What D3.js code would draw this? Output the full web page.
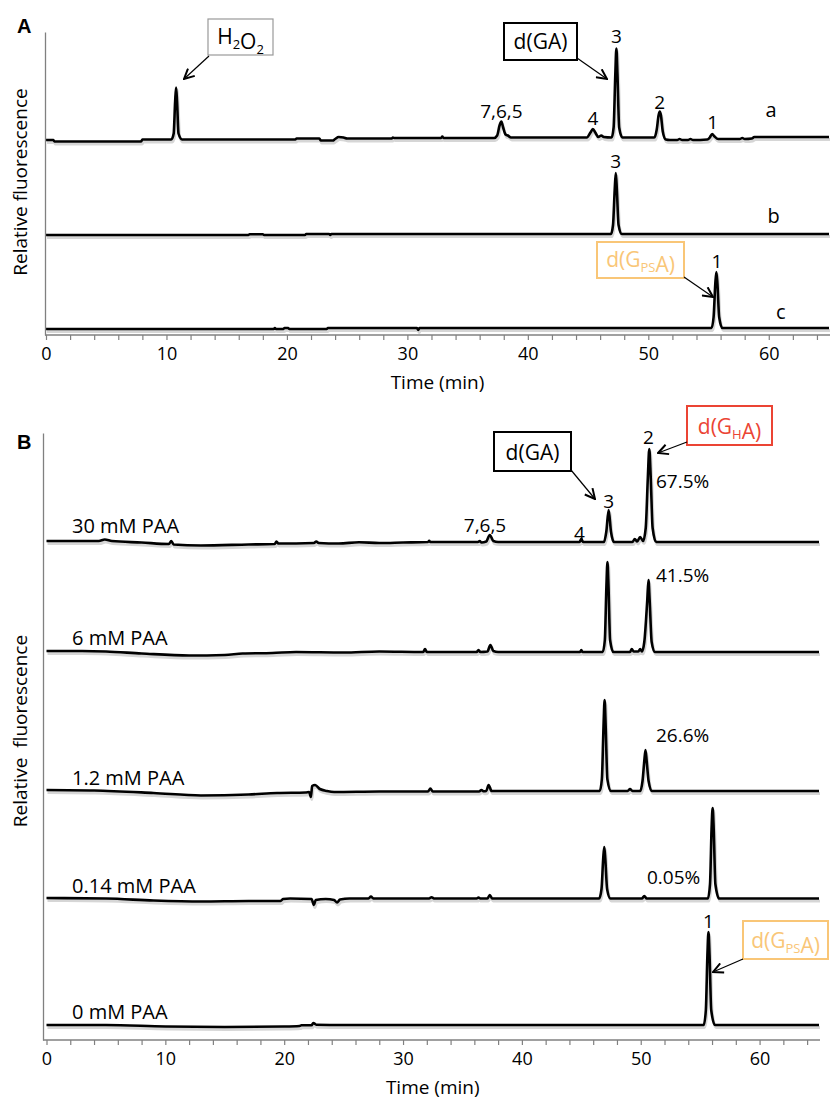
<!DOCTYPE html>
<html>
<head>
<meta charset="utf-8">
<script src="https://cdn.jsdelivr.net/npm/d3@7"></script>
<style>
  body { margin: 0; background: #fff; }
  svg { display: block; font-family: "Open Sans", sans-serif; }
</style>
</head>
<body>
<svg id="chart" width="830" height="1100"></svg>
<script>
// retention time axis (min)
const timeDomain = [0, 65];
const majorTicks = [0, 10, 20, 30, 40, 50, 60];
const minorTicks = [0, 2, 4, 6, 8, 10, 12, 14, 16, 18, 20, 22, 24, 26, 28, 30, 32,
  34, 36, 38, 40, 42, 44, 46, 48, 50, 52, 54, 56, 58, 60, 62, 64];

// panel A : a = reaction mix, b = d(GA) standard, c = d(GpsA) standard
const namesA = ["a", "b", "c"];
const offsetsA = [195.5, 100, 6];
const traceA_a = [
  [0, -0.5], [0.6, -0.5], [0.7, -2], [7.9, -2], [8.0, 0],
  [10.4, 0], [10.6, 6], [10.72, 38], [10.8, 52], [10.88, 38], [11.0, 6], [11.3, 0],
  [20.7, 0], [20.8, 1], [22.7, 1], [22.8, -1], [23.8, -1], [24.0, 0.5], [24.3, 2.5],
  [24.7, 2], [25.0, 1], [28.7, 1], [28.8, 2], [28.9, 1.5],
  [32.8, 1.5], [32.9, 3], [33.0, 1.5],
  [37.2, 1.5], [37.45, 4], [37.65, 14], [37.8, 18], [37.95, 12], [38.15, 5], [38.35, 4], [38.6, 2],
  [44.9, 2], [45.2, 7], [45.4, 10.5], [45.6, 7], [45.85, 2.5], [46.1, 4], [46.3, 2.5],
  [46.95, 2], [47.12, 12], [47.26, 65], [47.35, 91], [47.44, 65], [47.58, 12], [47.85, 2],
  [50.5, 2], [50.7, 10], [50.85, 24], [50.95, 28], [51.05, 24], [51.2, 8], [51.45, 0],
  [51.8, -0.5], [52.4, -0.5], [52.6, 0.5], [52.8, -0.5], [53.3, -0.5], [53.5, 0.5],
  [53.7, -0.5], [54.9, 0], [55.1, 2], [55.3, 5.5], [55.5, 3], [55.8, 0.5],
  [57.6, 0.5], [57.8, 1.5], [58.0, 0.5], [58.6, 1], [58.8, 2.5], [65, 2.5]
];
const traceA_b = [
  [0, 0], [16.8, 0], [16.9, 0.8], [18.0, 0.8], [18.1, 0], [21.5, 0], [21.6, 1],
  [23.5, 1], [23.6, 0], [23.7, 1],
  [46.9, 1], [47.07, 10], [47.21, 45], [47.3, 62], [47.39, 45], [47.53, 10], [47.8, 1], [65, 1]
];
const traceA_c = [
  [0, 0], [18.9, 0], [19.0, 1], [19.1, 0], [19.7, 0], [19.8, 1], [20.1, 1], [20.2, 0],
  [23.3, 0], [23.4, 1], [30.8, 1], [30.9, -1], [31.0, 1],
  [55.25, 1], [55.42, 12], [55.56, 45], [55.65, 57], [55.74, 45], [55.88, 12], [56.15, 1], [65, 1]
];

// panel B : peracetic acid (PAA) titration
const namesB = ["30 mM PAA", "6 mM PAA", "1.2 mM PAA", "0.14 mM PAA", "0 mM PAA"];
const offsetsB = [498, 388, 249, 141, 15];
const percentB = ["67.5%", "41.5%", "26.6%", "0.05%", ""];
const traceB_30 = [
  [0, 1], [4.4, 1], [4.9, 2.5], [5.5, 1], [8, -0.5], [10.3, -2], [10.5, 1], [10.7, -2.5],
  [13, -3.5], [17, -2.5], [19.2, -2], [19.35, 0.5], [19.5, -1.5], [22.5, -1], [22.7, 0.5],
  [22.9, -1], [24.6, -1.5], [26.3, -0.3], [28, -1], [30, -0.5], [32.1, 0], [32.2, 1.2],
  [32.3, 0], [36.3, 0], [36.45, 1], [36.6, -0.5], [37.0, 0.5], [37.3, 7], [37.6, 1], [38, 0],
  [44.85, 0], [45.0, 3], [45.15, 0],
  [46.9, 0], [47.1, 10], [47.3, 32], [47.5, 10], [47.75, 0],
  [49.3, 0], [49.5, 3], [49.7, 0.5], [49.95, 5], [50.2, 1],
  [50.42, 14], [50.6, 65], [50.72, 93], [50.84, 65], [51.0, 14], [51.3, 0], [65, 0]
];
const traceB_6 = [
  [0, 1], [3, 1], [5, 0.5], [8, -1.5], [12, -3.5], [15, -3], [16.5, -1.5], [19, -1],
  [21, 0], [25, -0.5], [28, 0.5], [31.7, 0], [31.85, 3], [32.0, 0], [36.2, 0],
  [36.35, 2], [36.5, 0], [37.1, 0.5], [37.35, 7], [37.6, 1], [38, 0],
  [44.9, 0], [45.0, 2], [45.1, 0],
  [46.8, 0], [46.98, 12], [47.11, 65], [47.2, 90], [47.29, 65], [47.42, 12], [47.7, 0],
  [49.1, 0], [49.25, 3], [49.4, 0.5], [49.8, 0.5], [49.95, 3], [50.1, 0.5],
  [50.3, 10], [50.55, 52], [50.65, 72], [50.75, 52], [50.92, 10], [51.2, 0], [65, 0]
];
const traceB_1_2 = [
  [0, 1], [4, 0.5], [9, -2], [13, -4.5], [17, -3.5], [19.4, -2], [21.8, -1.5], [22.1, -1],
  [22.25, -6], [22.35, 5], [22.6, 6], [23.0, 2], [23.6, 0], [24.2, -1], [28, -0.5],
  [32.1, -0.5], [32.3, 2.5], [32.5, -0.5], [36.4, -0.5], [36.6, 1], [36.8, -0.3],
  [37.0, 0], [37.2, 6], [37.45, 0],
  [46.55, 0], [46.73, 12], [46.87, 65], [46.96, 91], [47.05, 65], [47.19, 12], [47.5, 0],
  [48.9, 0], [49.1, 2], [49.3, 0],
  [49.95, 0], [50.15, 10], [50.3, 30], [50.4, 41], [50.5, 30], [50.66, 10], [50.95, 0], [65, 0]
];
const traceB_0_14 = [
  [0, 1], [5, 0.5], [9, -1.5], [13, -2.5], [17, -2], [19.7, -2], [19.9, 0], [20.5, 0.5],
  [22.3, 0], [22.5, -6], [22.65, -1], [23.5, 0], [24.2, -1], [24.45, -3.5], [24.7, -0.5],
  [25.5, 0.5], [27.1, 0.5], [27.3, 2.5], [27.5, 0.5], [32.2, 0.5], [32.4, 1.8], [32.6, 0.5],
  [36.2, 0.5], [36.35, 1.5], [36.5, 0.5], [37.1, 0.5], [37.3, 4], [37.5, 0.5],
  [46.5, 0.5], [46.7, 10], [46.84, 40], [46.93, 52], [47.02, 40], [47.17, 10], [47.45, 0.5],
  [50.1, 0.5], [50.3, 3], [50.5, 0.5],
  [55.65, 0.5], [55.83, 15], [55.96, 70], [56.05, 91], [56.14, 70], [56.28, 15], [56.6, 0.5], [65, 0.5]
];
const traceB_0 = [
  [0, 0], [5, 0], [10, -1.5], [15, -2], [20, -1.5], [21.3, -1], [21.45, -0.3], [22.3, -0.3],
  [22.45, 2], [22.7, 0.3], [25, 0], [40, 0], [50, 0],
  [55.3, 0], [55.48, 15], [55.61, 70], [55.7, 93], [55.79, 70], [55.93, 15], [56.25, 0], [65, 0]
];

const ORANGE = "#f9c677";
const RED = "#eb4434";
const AXIS = "#808080";

const svg = d3.select("#chart");

const defs = svg.append("defs");
defs.append("marker")
  .attr("id", "head")
  .attr("viewBox", "0 0 12 12")
  .attr("refX", 11)
  .attr("refY", 6)
  .attr("markerWidth", 12)
  .attr("markerHeight", 12)
  .attr("markerUnits", "userSpaceOnUse")
  .attr("orient", "auto")
  .append("path")
  .attr("d", "M1,1L11,6L1,11")
  .attr("fill", "none")
  .attr("stroke", "#000")
  .attr("stroke-width", 2);

function drawPanel(p) {
  const x = d3.scaleLinear().domain(timeDomain).range(p.xRange);
  const y = d3.scaleLinear().domain(p.yDomain).range(p.yRange);
  const g = svg.append("g");

  const line = (off) => d3.line()
    .x((d) => x(d[0]))
    .y((d) => y(d[1] + off))
    .curve(d3.curveMonotoneX);

  // soft drop shadow under the traces, like the original export
  p.traces.forEach((tr, i) => {
    g.append("path")
      .attr("d", line(p.offsets[i])(tr))
      .attr("fill", "none")
      .attr("stroke", "#000")
      .attr("stroke-opacity", 0.16)
      .attr("stroke-width", 3)
      .attr("transform", "translate(1,2.5)");
  });
  p.traces.forEach((tr, i) => {
    g.append("path")
      .attr("d", line(p.offsets[i])(tr))
      .attr("fill", "none")
      .attr("stroke", "#000")
      .attr("stroke-width", 2.6)
      .attr("stroke-linejoin", "round");
  });

  const xAxis = d3.axisBottom(x)
    .tickValues(minorTicks)
    .tickFormat((d) => (majorTicks.includes(d) ? d : ""))
    .tickSize(5)
    .tickSizeOuter(0)
    .tickPadding(7);
  const ax = g.append("g")
    .attr("transform", `translate(0,${p.yRange[0]})`)
    .call(xAxis);
  ax.select(".domain").remove();
  ax.append("line")
    .attr("x1", p.axisX).attr("x2", p.xRange[1] + 1)
    .attr("stroke", AXIS).attr("stroke-width", 1.3);
  ax.selectAll(".tick line").attr("stroke", AXIS).attr("stroke-width", 1.2);
  ax.selectAll(".tick text")
    .attr("fill", "#000")
    .style("font-family", "Open Sans, sans-serif")
    .style("font-size", "18px");

  const ay = g.append("g")
    .attr("transform", `translate(${p.axisX},0)`)
    .call(d3.axisLeft(y).tickValues([]).tickSizeOuter(0));
  ay.select(".domain").attr("stroke", AXIS).attr("stroke-width", 1.3);

  g.append("text")
    .attr("x", (p.xRange[0] + p.xRange[1]) / 2)
    .attr("y", p.yRange[0] + 54)
    .attr("text-anchor", "middle")
    .style("font-size", "19px")
    .text("Time (min)");

  g.append("text")
    .attr("transform", `translate(27,${p.yTitleY}) rotate(-90)`)
    .attr("text-anchor", "middle")
    .style("font-size", "19px")
    .style("white-space", "pre")
    .attr("xml:space", "preserve")
    .text(p.yTitle);

  g.append("text")
    .attr("x", 17)
    .attr("y", p.letterY)
    .style("font-family", "Liberation Sans, Arial, sans-serif")
    .style("font-weight", "bold")
    .style("font-size", "20px")
    .text(p.letter);

  return { x, y, g };
}

function label(g, x, y, txt, opts = {}) {
  return g.append("text")
    .attr("x", x)
    .attr("y", y)
    .attr("text-anchor", opts.anchor || "middle")
    .attr("fill", opts.color || "#000")
    .style("font-size", (opts.size || 19) + "px")
    .text(txt);
}

// boxed compound name with optional subscript
function box(g, bx, by, bw, bh, parts, color, sw) {
  g.append("rect")
    .attr("x", bx).attr("y", by).attr("width", bw).attr("height", bh)
    .attr("fill", "#fff")
    .attr("stroke", color === "#000" && sw < 1.5 ? "#999" : color)
    .attr("stroke-width", sw);
  const t = g.append("text")
    .attr("x", bx + bw / 2)
    .attr("y", by + bh - 11)
    .attr("text-anchor", "middle")
    .attr("fill", color)
    .style("font-size", "21px");
  parts.forEach(([s, sub]) => {
    if (sub) {
      t.append("tspan").attr("dy", 5).style("font-size", "13px").text(s);
    } else {
      t.append("tspan").attr("dy", t.selectAll("tspan").size() && t.select("tspan:last-child").style("font-size") === "13px" ? -5 : 0).text(s);
    }
  });
}

function arrow(g, x1, y1, x2, y2) {
  g.append("line")
    .attr("x1", x1).attr("y1", y1).attr("x2", x2).attr("y2", y2)
    .attr("stroke", "#000")
    .attr("stroke-width", 1.2)
    .attr("marker-end", "url(#head)");
}

// ---------- panel A ----------
const A = drawPanel({
  xRange: [46, 829],
  yRange: [335, 32],
  yDomain: [0, 303],
  axisX: 45,
  traces: [traceA_a, traceA_b, traceA_c],
  offsets: offsetsA,
  yTitle: "Relative fluorescence",
  yTitleY: 182,
  letter: "A",
  letterY: 33
});

label(A.g, A.x(37.8), 118, "7,6,5");
label(A.g, A.x(45.4), 125, "4");
label(A.g, A.x(47.35), 43, "3");
label(A.g, A.x(50.95), 109, "2");
label(A.g, A.x(55.35), 129, "1");
label(A.g, A.x(47.3), 168, "3");
label(A.g, A.x(55.7), 268, "1");
label(A.g, A.x(60.2), 117, namesA[0], { size: 20 });
label(A.g, A.x(60.4), 223, namesA[1], { size: 20 });
label(A.g, A.x(61.0), 319, namesA[2], { size: 20 });

box(A.g, 208, 19, 65, 36, [["H"], ["2", true], ["O"], ["2", true]], "#000", 1.2);
arrow(A.g, 209, 56, 184, 79);
box(A.g, 504, 23, 73, 37, [["d(GA)"]], "#000", 2);
arrow(A.g, 577, 58, 607, 79);
box(A.g, 597, 242, 87, 36, [["d(G"], ["PS", true], ["A)"]], ORANGE, 2);
arrow(A.g, 684, 277, 713, 297);

// ---------- panel B ----------
const B = drawPanel({
  xRange: [46.5, 819],
  yRange: [1040, 433],
  yDomain: [0, 607],
  axisX: 43,
  traces: [traceB_30, traceB_6, traceB_1_2, traceB_0_14, traceB_0],
  offsets: offsetsB,
  yTitle: "Relative  fluorescence",
  yTitleY: 731,
  letter: "B",
  letterY: 449
});

const nameY = [533, 645, 785, 893, 1019];
namesB.forEach((n, i) => label(B.g, 72, nameY[i], n, { anchor: "start", size: 20 }));

const pctPos = [[656, 488], [656, 582], [656, 742], [647, 884]];
pctPos.forEach(([px, py], i) => label(B.g, px, py, percentB[i], { anchor: "start" }));

label(B.g, B.x(36.9), 532, "7,6,5");
label(B.g, B.x(44.85), 540, "4");
label(B.g, B.x(47.3), 508, "3");
label(B.g, B.x(50.65), 444, "2");
label(B.g, B.x(55.7), 928, "1");

box(B.g, 494, 432, 77, 39, [["d(GA)"]], "#000", 2);
arrow(B.g, 571, 470, 595, 499);
box(B.g, 687, 406, 85, 39, [["d(G"], ["H", true], ["A)"]], RED, 2);
arrow(B.g, 687, 442, 658, 453);
box(B.g, 743, 921, 85, 38, [["d(G"], ["PS", true], ["A)"]], ORANGE, 2);
arrow(B.g, 743, 959, 713, 972);
</script>
</body>
</html>
